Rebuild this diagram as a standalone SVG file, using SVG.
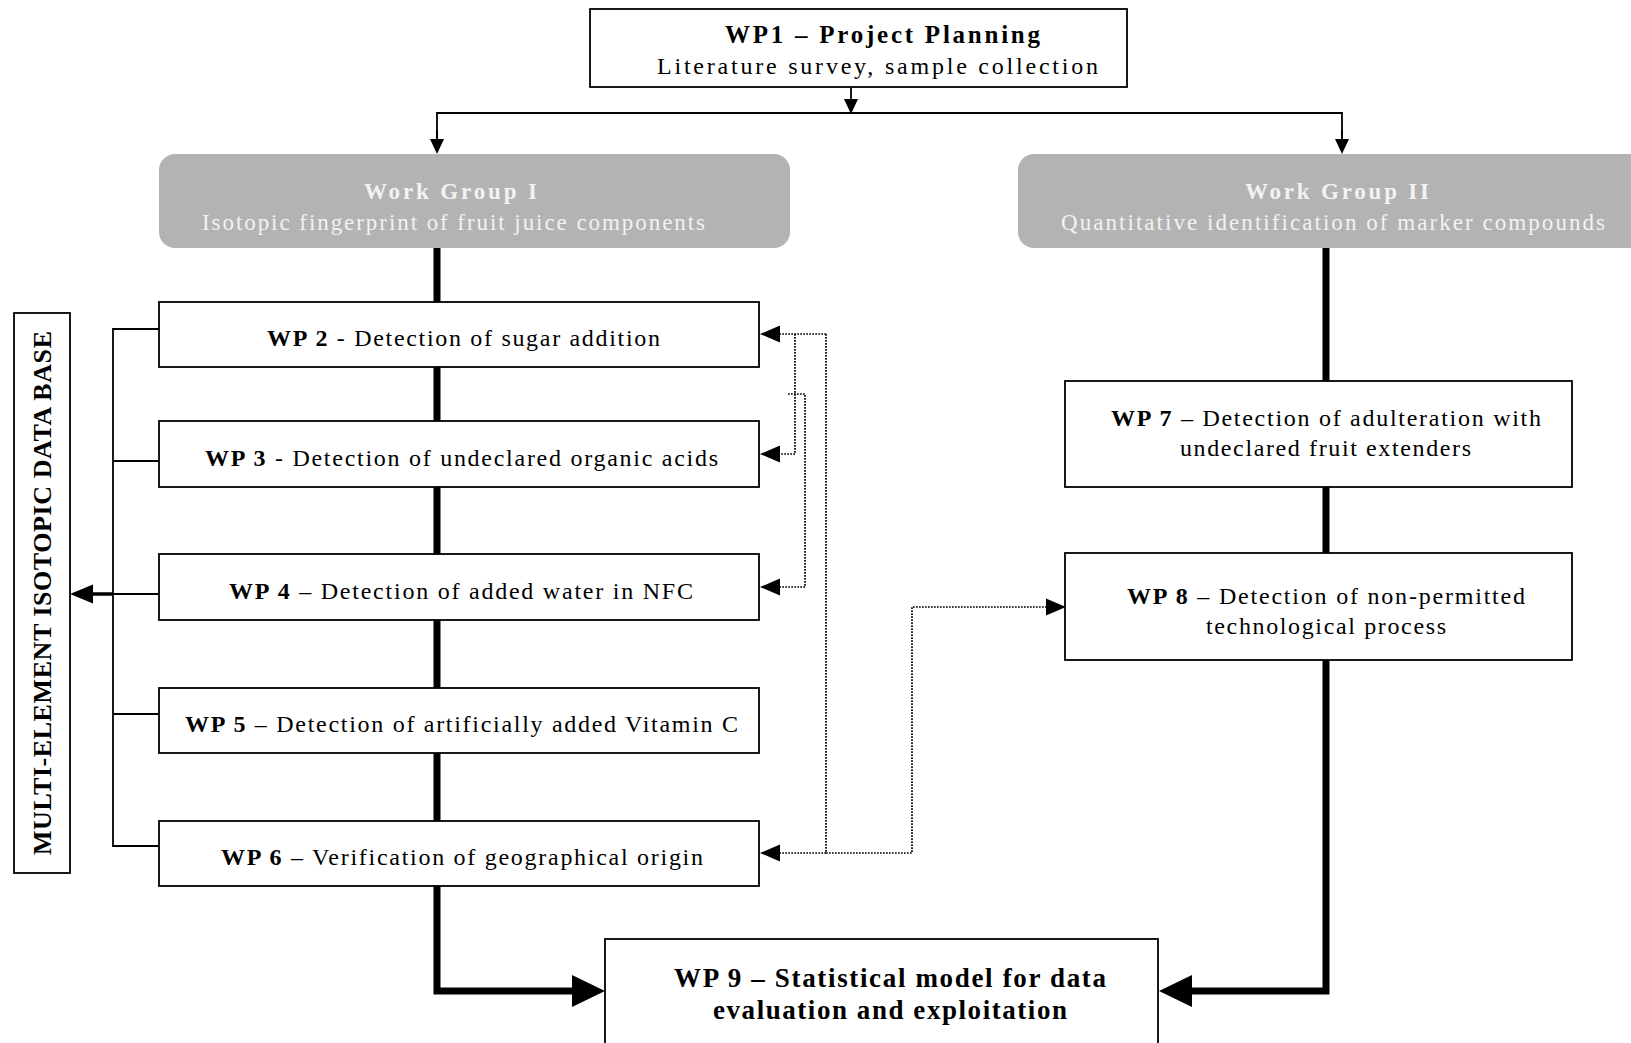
<svg xmlns="http://www.w3.org/2000/svg" width="1631" height="1043" viewBox="0 0 1631 1043">
<style>
text{font-family:"Liberation Serif","Times New Roman",serif;fill:#000}
.b{font-weight:bold}
.box{fill:#fff;stroke:#000;stroke-width:1.8}
.wg{fill:#b3b3b3;stroke:none}
.wgt{fill:#f2f2f2}
.thin{fill:none;stroke:#000;stroke-width:1.8}
.thick{fill:none;stroke:#000;stroke-width:7}
.dot{fill:none;stroke:#000;stroke-width:1.7;stroke-dasharray:1.7 1.3}
.t{font-size:24px}
.tw{font-size:23px}
.t1{font-size:25px}
.t9{font-size:27px}
.tdb{font-size:26px}
</style>
<defs>
<marker id="aThin" markerUnits="userSpaceOnUse" markerWidth="16" markerHeight="16" refX="0" refY="7" orient="auto" overflow="visible"><path d="M0,0 L15,7 L0,14 z" fill="#000"/></marker>
<marker id="aDot" markerUnits="userSpaceOnUse" markerWidth="21" markerHeight="18" refX="0" refY="8.5" orient="auto" overflow="visible"><path d="M0,0 L20,8.5 L0,17 z" fill="#000"/></marker>
<marker id="aThick" markerUnits="userSpaceOnUse" markerWidth="34" markerHeight="33" refX="0" refY="16" orient="auto" overflow="visible"><path d="M0,0 L33,16 L0,32 z" fill="#000"/></marker>
<marker id="aDB" markerUnits="userSpaceOnUse" markerWidth="24" markerHeight="20" refX="0" refY="9.5" orient="auto" overflow="visible"><path d="M0,0 L23,9.5 L0,19 z" fill="#000"/></marker>
</defs>

<g id="connectors">
<path class="thin" d="M851,87 V99" marker-end="url(#aThin)"/>
<path class="thin" d="M437,139 V113 H1342 V139" />
<path class="thin" d="M437,130 V139" marker-end="url(#aThin)"/>
<path class="thin" d="M1342,130 V139" marker-end="url(#aThin)"/>
<path class="thick" d="M437,248 V991 H572" marker-end="url(#aThick)"/>
<path class="thick" d="M1326,248 V991 H1192" marker-end="url(#aThick)"/>
<path class="thin" d="M159,329 H113 V846 H159 M113,461 H159 M113,714 H159 M159,594 H113"/>
<path d="M113,594 H93" fill="none" stroke="#000" stroke-width="3.5" marker-end="url(#aDB)"/>
<path class="dot" d="M826,334 H780" marker-end="url(#aDot)"/>
<path class="dot" d="M826,334 V853 H780" marker-end="url(#aDot)"/>
<path class="dot" d="M795,334 V454 H780" marker-end="url(#aDot)"/>
<path class="dot" d="M788,394 H805 V587 H780" marker-end="url(#aDot)"/>
<path class="dot" d="M826,853 H912 V607 H1046" marker-end="url(#aDot)"/>
</g>

<g id="wp1">
<rect class="box" x="590" y="9" width="537" height="78"/>
<text class="b t1" x="725" y="43" textLength="315" lengthAdjust="spacing">WP1 – Project Planning</text>
<text class="t" x="657" y="74" textLength="441" lengthAdjust="spacing">Literature survey, sample collection</text>
</g>

<g id="wg1">
<rect class="wg" x="159" y="154" width="631" height="94" rx="16" ry="16"/>
<text class="wgt b tw" x="364" y="199" textLength="173" lengthAdjust="spacing">Work Group I</text>
<text class="wgt tw" x="202" y="230" textLength="503" lengthAdjust="spacing">Isotopic fingerprint of fruit juice components</text>
</g>

<g id="wg2">
<rect class="wg" x="1018" y="154" width="640" height="94" rx="16" ry="16"/>
<text class="wgt b tw" x="1245" y="199" textLength="184" lengthAdjust="spacing">Work Group II</text>
<text class="wgt tw" x="1061" y="230" textLength="544" lengthAdjust="spacing">Quantitative identification of marker compounds</text>
</g>

<g id="db">
<rect class="box" x="14" y="313" width="56" height="560"/>
<text class="b tdb" transform="translate(51,593) rotate(-90)" x="0" y="0" text-anchor="middle" textLength="524" lengthAdjust="spacing">MULTI-ELEMENT ISOTOPIC DATA BASE</text>
</g>

<g id="wp2">
<rect class="box" x="159" y="302" width="600" height="65"/>
<text class="t" x="267" y="346" textLength="393" lengthAdjust="spacing"><tspan class="b">WP 2</tspan> - Detection of sugar addition</text>
</g>
<g id="wp3">
<rect class="box" x="159" y="421" width="600" height="66"/>
<text class="t" x="205" y="466" textLength="513" lengthAdjust="spacing"><tspan class="b">WP 3</tspan> - Detection of undeclared organic acids</text>
</g>
<g id="wp4">
<rect class="box" x="159" y="554" width="600" height="66"/>
<text class="t" x="229" y="599" textLength="464" lengthAdjust="spacing"><tspan class="b">WP 4</tspan> – Detection of added water in NFC</text>
</g>
<g id="wp5">
<rect class="box" x="159" y="688" width="600" height="65"/>
<text class="t" x="185" y="732" textLength="553" lengthAdjust="spacing"><tspan class="b">WP 5</tspan> – Detection of artificially added Vitamin C</text>
</g>
<g id="wp6">
<rect class="box" x="159" y="821" width="600" height="65"/>
<text class="t" x="221" y="865" textLength="482" lengthAdjust="spacing"><tspan class="b">WP 6</tspan> – Verification of geographical origin</text>
</g>

<g id="wp7">
<rect class="box" x="1065" y="381" width="507" height="106"/>
<text class="t" x="1111" y="426" textLength="430" lengthAdjust="spacing"><tspan class="b">WP 7</tspan> – Detection of adulteration with</text>
<text class="t" x="1180" y="456" textLength="291" lengthAdjust="spacing">undeclared fruit extenders</text>
</g>
<g id="wp8">
<rect class="box" x="1065" y="553" width="507" height="107"/>
<text class="t" x="1127" y="604" textLength="398" lengthAdjust="spacing"><tspan class="b">WP 8</tspan> – Detection of non-permitted</text>
<text class="t" x="1206" y="634" textLength="240" lengthAdjust="spacing">technological process</text>
</g>

<g id="wp9">
<rect class="box" x="605" y="939" width="553" height="130"/>
<text class="b t9" x="674" y="987" textLength="432" lengthAdjust="spacing">WP 9 – Statistical model for data</text>
<text class="b t9" x="713" y="1019" textLength="354" lengthAdjust="spacing">evaluation and exploitation</text>
</g>
</svg>
